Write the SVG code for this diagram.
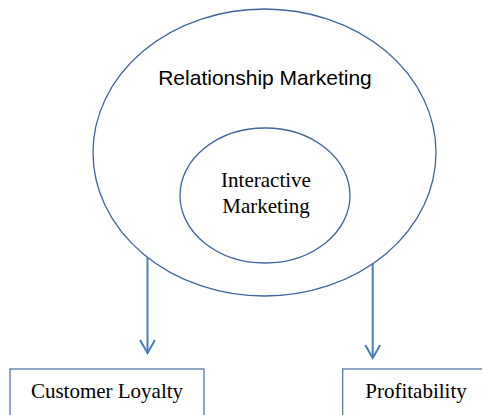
<svg xmlns="http://www.w3.org/2000/svg" width="482" height="415" viewBox="0 0 482 415">
  <style>
    .ring { fill: none; stroke: #3f6599; stroke-width: 1.3; }
    .box { fill: #ffffff; stroke: #4a6fa5; stroke-width: 1.2; }
    .link { fill: none; stroke: #4a7ebb; stroke-width: 2; }
    .serif { font-family: "Liberation Serif", "Times New Roman", serif; font-size: 21px; fill: #000; text-anchor: middle; }
    .sans { font-family: "Liberation Sans", Arial, sans-serif; font-size: 21px; fill: #000; text-anchor: middle; }
  </style>
  <defs>
    <!-- open V arrowhead, drawn pointing along +x so orient="auto" turns it with the line -->
    <marker id="vee" viewBox="0 0 16 18" refX="14" refY="9" markerWidth="16" markerHeight="18" markerUnits="userSpaceOnUse" orient="auto">
      <path d="M1,1.5 L14,9 L1,16.5" fill="none" stroke="#4a7ebb" stroke-width="2"/>
    </marker>
  </defs>

  <g id="relationship-marketing">
    <ellipse class="ring" cx="264.5" cy="152.5" rx="171.5" ry="143.5"/>
    <text class="sans" x="265" y="85">Relationship Marketing</text>
  </g>

  <g id="interactive-marketing">
    <ellipse class="ring" cx="265" cy="195.5" rx="85" ry="67.5"/>
    <text class="serif" x="266" y="187">Interactive</text>
    <text class="serif" x="266" y="213">Marketing</text>
  </g>

  <g id="connectors">
    <line class="link" x1="147.5" y1="257" x2="147.5" y2="353" marker-end="url(#vee)"/>
    <line class="link" x1="372.7" y1="263" x2="372.7" y2="358" marker-end="url(#vee)"/>
  </g>

  <g id="customer-loyalty">
    <rect class="box" x="10" y="369" width="194" height="60"/>
    <text class="serif" x="107" y="397.5">Customer Loyalty</text>
  </g>

  <g id="profitability">
    <rect class="box" x="342.7" y="369" width="160" height="60"/>
    <text class="serif" x="416" y="397.5">Profitability</text>
  </g>
</svg>
